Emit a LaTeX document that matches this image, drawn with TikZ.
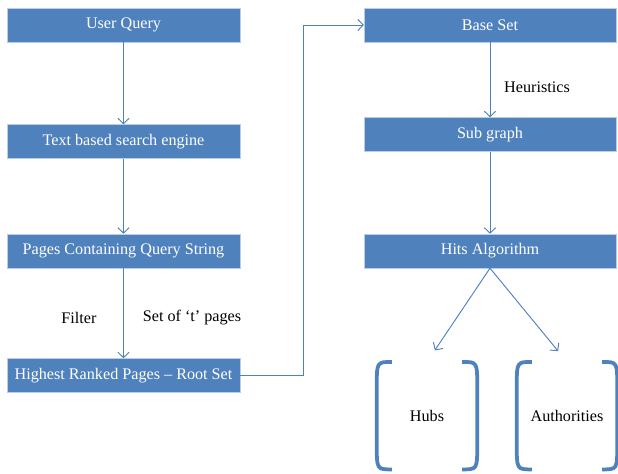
\documentclass[tikz,border=0pt]{standalone}
\usepackage{fontspec}
\setmainfont{Liberation Serif}
\usetikzlibrary{arrows.meta,positioning}
\definecolor{boxblue}{HTML}{4F81BD}
\definecolor{boxedge}{HTML}{B9CDE5}
\definecolor{linkblue}{HTML}{4F81BD}
\tikzset{
  flowbox/.style={rectangle,draw=boxedge,thin,fill=boxblue,text=white,align=center,minimum height=1.02cm,inner sep=0pt,font=\fontsize{13.8}{16}\selectfont},
  leftbox/.style={flowbox,minimum width=6.99cm},
  rightbox/.style={flowbox,minimum width=7.56cm},
  groupbox/.style={rectangle,minimum width=3.0cm,minimum height=3.21cm,inner sep=0pt,font=\fontsize{13.8}{16}\selectfont},
  lbl/.style={font=\fontsize{13.8}{16}\selectfont},
  arrow/.style={-{Straight Barb[length=1.6mm,width=3.4mm]},draw=linkblue,line width=0.8pt},
  bracket/.style={draw=linkblue,line width=3.2pt}
}
\begin{document}
\begin{tikzpicture}
  \useasboundingbox (0,0) rectangle (18.54,-14.19);
  % left column
  \node[leftbox] (query) at (3.705,-0.75) {User Query};
  \node[leftbox, below=2.46cm of query] (engine) {Text based search engine};
  \node[leftbox, below=2.25cm of engine] (pages) {Pages Containing Query String};
  \node[leftbox, below=2.7cm of pages] (root) {Highest Ranked Pages -- Root Set};
  % right column
  \node[rightbox] (base) at (14.7,-0.75) {Base Set};
  \node[rightbox, below=2.25cm of base] (sub) {Sub graph};
  \node[rightbox, below=2.46cm of sub] (hits) {Hits Algorithm};
  \node[groupbox] (hubs) at (12.81,-12.47) {Hubs};
  \node[groupbox] (auth) at (17.01,-12.47) {Authorities};
  % labels
  \node[lbl] (filter) at (2.37,-9.54) {Filter};
  \node[lbl] (tset) at (5.76,-9.54) {Set of ‘t’ pages};
  \node[lbl] (heur) at (16.11,-2.61) {Heuristics};

  \draw[arrow] (query) -- (engine);
  \draw[arrow] (engine) -- (pages);
  \draw[arrow] (pages) -- (root);
  \draw[arrow] (root.east) -- ++(1.89,0) |- (base.west);
  \draw[arrow] (base) -- (sub);
  \draw[arrow] (sub) -- (hits);
  \draw[arrow, shorten >=0.42cm] (hits.south) -- (hubs.north);
  \draw[arrow, shorten >=0.42cm] (hits.south) -- (auth.north);

  % brackets round the two result sets
  \foreach \n in {hubs,auth} {
    \draw[bracket] ([xshift=0.45cm]\n.north west) .. controls (\n.north west) .. ([yshift=-0.75cm]\n.north west)
      -- ([yshift=0.75cm]\n.south west) .. controls (\n.south west) .. ([xshift=0.45cm]\n.south west);
    \draw[bracket] ([xshift=-0.45cm]\n.north east) .. controls (\n.north east) .. ([yshift=-0.75cm]\n.north east)
      -- ([yshift=0.75cm]\n.south east) .. controls (\n.south east) .. ([xshift=-0.45cm]\n.south east);
  }
\end{tikzpicture}
\end{document}
